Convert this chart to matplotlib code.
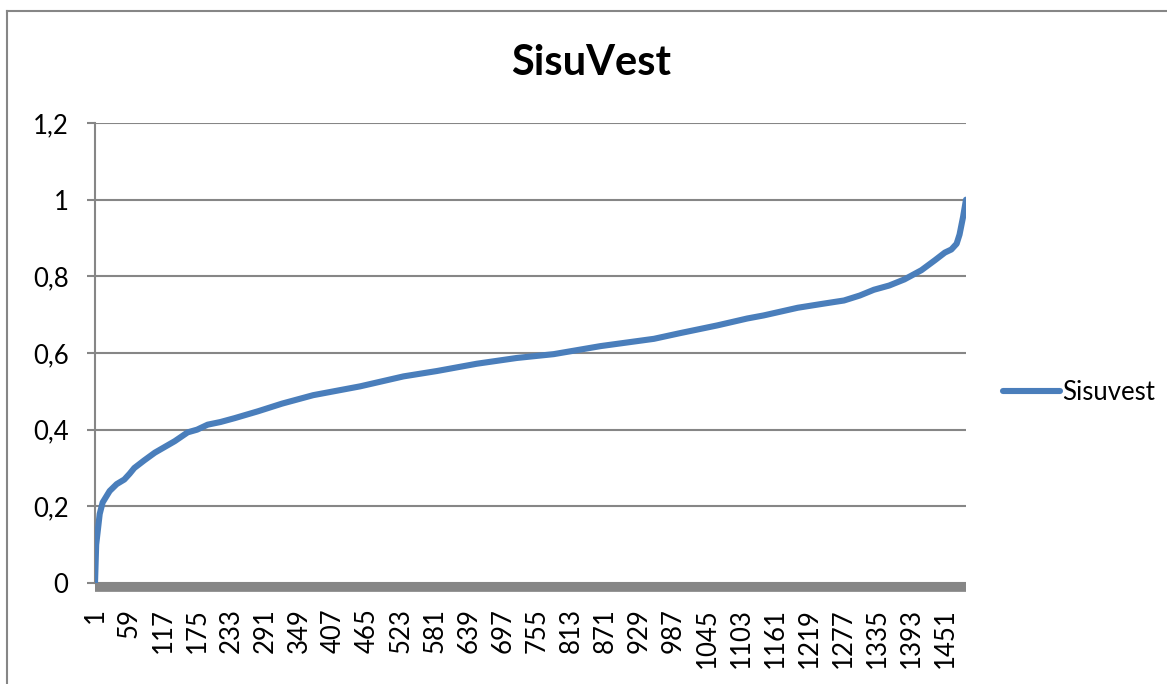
import matplotlib
matplotlib.use("Agg")
import matplotlib.pyplot as plt
from matplotlib.lines import Line2D
from matplotlib.ticker import FixedLocator, FixedFormatter

plt.rcParams['font.family'] = ['Lato', 'DejaVu Sans']

# Data (category index -> value)
categories = [1, 3, 6, 9, 14, 20, 26, 38, 51, 60, 68, 85, 103, 120, 137, 159,
              175, 193, 215, 239, 279, 320, 373, 453, 527, 584, 652, 720, 783,
              863, 954, 999, 1062, 1113, 1141, 1199, 1240, 1278, 1305, 1329,
              1355, 1381, 1410, 1433, 1450, 1461, 1470, 1475, 1481, 1486]
values = [0.0, 0.10, 0.14, 0.18, 0.21, 0.225, 0.24, 0.258, 0.27, 0.285, 0.30,
          0.32, 0.34, 0.355, 0.37, 0.393, 0.40, 0.413, 0.42, 0.43, 0.448, 0.468,
          0.49, 0.513, 0.539, 0.553, 0.572, 0.587, 0.597, 0.618, 0.637, 0.652,
          0.672, 0.69, 0.698, 0.718, 0.728, 0.737, 0.75, 0.765, 0.776, 0.792,
          0.816, 0.842, 0.862, 0.87, 0.885, 0.909, 0.955, 1.0]
n_categories = 1486
x_tick_values = list(range(1, n_categories + 1, 58))
x_tick_labels = [str(v) for v in x_tick_values]
y_tick_values = [0, 0.2, 0.4, 0.6, 0.8, 1.0, 1.2]
y_tick_labels = ["0", "0,2", "0,4", "0,6", "0,8", "1", "1,2"]
series_name = "Sisuvest"
title = "SisuVest"

W, H = 1167, 684
fig = plt.figure(figsize=(W / 100, H / 100), dpi=100)
fig.patch.set_facecolor("white")

ax = fig.add_axes([95 / W, 1 - 583 / H, (966 - 95) / W, (583 - 123) / H])

grid_c = "#868686"
line_c = "#4A7EBB"

ax.plot(categories, values, color=line_c, lw=4.4, solid_joinstyle="round",
        solid_capstyle="round", zorder=3, label=series_name)

ax.set_xlim(1, n_categories)
ax.set_ylim(0, 1.2)

ax.yaxis.set_major_locator(FixedLocator(y_tick_values))
ax.yaxis.set_major_formatter(FixedFormatter(y_tick_labels))
ax.xaxis.set_major_locator(FixedLocator(x_tick_values))
ax.xaxis.set_major_formatter(FixedFormatter(x_tick_labels))

ax.grid(axis="y", color=grid_c, lw=1.5, zorder=1)
ax.set_axisbelow(True)

for s in ["top", "right"]:
    ax.spines[s].set_visible(False)
ax.spines["left"].set_color(grid_c)
ax.spines["left"].set_linewidth(1.5)
ax.spines["bottom"].set_color(grid_c)
ax.spines["bottom"].set_linewidth(7)
ax.spines["bottom"].set_capstyle("butt")
ax.spines["bottom"].set_position(("outward", 3))
ax.spines["bottom"].set_zorder(2)

ax.tick_params(axis="y", length=6, width=1.5, color=grid_c, pad=13,
               labelsize=18.5, labelcolor="black")
ax.tick_params(axis="x", length=0, pad=15, labelsize=18.5, labelcolor="black",
               labelrotation=90)

fig.text(591 / W, 1 - 63 / H, title, fontsize=30, fontweight="bold",
         ha="center", va="center")

# Legend
fig.legend(handles=[Line2D([0], [0], color=line_c, lw=4.4, solid_capstyle="round")],
           labels=[series_name], loc="center left",
           bbox_to_anchor=(1003 / W, 1 - 392 / H), frameon=False,
           fontsize=18.5, handlelength=2.2, handletextpad=0.1,
           borderpad=0, borderaxespad=0)

# Outer chart border (left and top edges visible)
fig.add_artist(Line2D([7 / W, 7 / W], [0, 1 - 10.5 / H], color=grid_c, lw=1.5,
                      transform=fig.transFigure))
fig.add_artist(Line2D([7 / W, 1], [1 - 10.5 / H, 1 - 10.5 / H], color=grid_c, lw=1.5,
                      transform=fig.transFigure))

fig.savefig("out.png", dpi=100, facecolor="white")
